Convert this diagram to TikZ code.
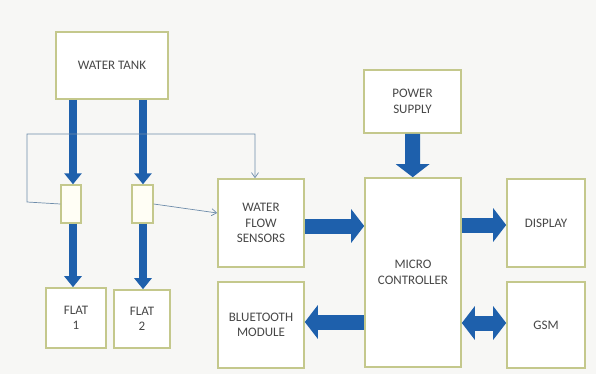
\documentclass[tikz,border=0pt]{standalone}
\usepackage{fontspec}
\setmainfont{Carlito}
\usepackage{xcolor}
\usepackage{tikz}
\usetikzlibrary{arrows.meta,positioning,calc}
\definecolor{boxline}{RGB}{196,200,140}
\definecolor{flowblue}{RGB}{30,96,172}
\definecolor{pagebg}{RGB}{247,247,245}
\definecolor{wire}{RGB}{110,140,170}

\begin{document}
\begin{tikzpicture}[
        x=1pt, y=-1pt,
        every node/.style={font=\fontsize{13}{15.5}\selectfont, text=black!72},
        box/.style={draw=boxline, fill=white, line width=1.6pt, align=center, inner sep=0pt},
        sensor/.style={draw=boxline, fill=yellow!4, line width=1.4pt, inner sep=0pt},
        pipe/.style={draw=flowblue, line width=8pt, -{Triangle[length=11pt,width=17pt]}},
        bus/.style={draw=flowblue, line width=15pt, -{Triangle[length=13pt,width=33pt]}},
        busboth/.style={draw=flowblue, line width=15pt, {Triangle[length=13pt,width=33pt]}-{Triangle[length=13pt,width=33pt]}},
        signal/.style={draw=wire, line width=0.7pt, -{Straight Barb[length=5pt,width=7pt]}},
    ]
        \fill[pagebg] (0,0) rectangle (596,374);
        \useasboundingbox (0,0) rectangle (596,374);

        \node[box, minimum width=112pt, minimum height=67pt] (tank) at (112,65.5) {WATER TANK};
        \node[sensor, minimum width=20pt, minimum height=38pt] (senA) at (71,204) {};
        \node[sensor, minimum width=21pt, minimum height=38pt] (senB) at (142.5,204) {};
        \node[box, minimum width=60pt, minimum height=60pt] (flat1) at (76,318) {FLAT\\1};
        \node[box, minimum width=56pt, minimum height=58pt] (flat2) at (142,319) {FLAT\\2};
        \node[box, minimum width=86pt, minimum height=88pt] (wfs) at (261,223) {WATER\\FLOW\\SENSORS};
        \node[box, minimum width=86pt, minimum height=86pt] (bt) at (261,325) {BLUETOOTH\\MODULE};
        \node[box, minimum width=97pt, minimum height=63pt] (psu) at (412.5,101.5) {POWER\\SUPPLY};
        \node[box, minimum width=96pt, minimum height=189pt] (mcu) at (413,272.5) {MICRO\\CONTROLLER};
        \node[box, minimum width=78pt, minimum height=88pt] (disp) at (546,223) {DISPLAY};
        \node[box, minimum width=78pt, minimum height=86pt] (gsm) at (546,325) {GSM};

        % water pipes
        \draw[pipe] (tank.south -| 73,0) -- (senA.north -| 73,0);
        \draw[pipe] (tank.south -| 143,0) -- (senB.north -| 143,0);
        \draw[pipe] (senA.south -| 73,0) -- (flat1.north -| 73,0);
        \draw[pipe] (senB.south -| 143,0) -- (flat2.north -| 143,0);

        % sensor wires
        \coordinate (wA) at (27,202);
        \coordinate (wB) at (27,134);
        \coordinate (wC) at (255,134);
        \draw[signal] (senA.west) -- (wA) -- (wB) -- (wC) -- (wC |- wfs.north);
        \draw[signal] (senB.east) -- (wfs.west |- 0,213);

        % data lines
        \draw[bus] (psu) -- (mcu);
        \draw[bus] (wfs.east |- 0,226) -- (mcu.west |- 0,226);
        \draw[bus] (mcu.east |- 0,225) -- (disp.west |- 0,225);
        \draw[bus] (mcu.west |- 0,322) -- (bt.east |- 0,322);
        \draw[busboth] (mcu.east |- 0,323) -- (gsm.west |- 0,323);
    \end{tikzpicture}
\end{document}
